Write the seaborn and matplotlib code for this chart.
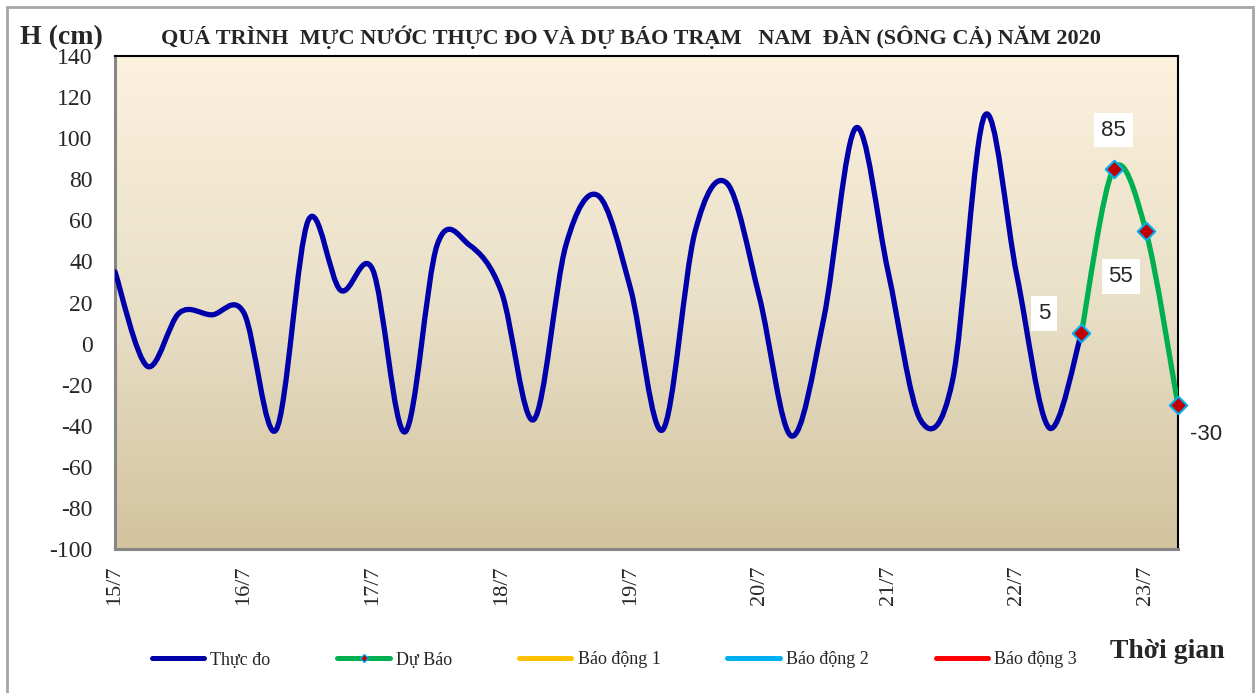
import numpy as np
import matplotlib
matplotlib.use("Agg")
import matplotlib.pyplot as plt
import seaborn as sns
import pandas as pd
from matplotlib.path import Path
from matplotlib.patches import PathPatch, Rectangle
from matplotlib.colors import LinearSegmentedColormap
from matplotlib.lines import Line2D

# muc nuoc 6h/lan tu 15/7 00h
thuc_do = [35, -11, 15, 14, 15, -42, 60, 26, 36, -43, 48, 48, 25, -37, 48, 72,
           27, -42, 54, 78, 23, -45, 12, 105, 35, -37, -18, 111, 33, -41, 5]
du_bao = [5, 85, 55, -30]
ngay = ["15/7", "16/7", "17/7", "18/7", "19/7", "20/7", "21/7", "22/7", "23/7"]
chu_thich = ["Thực đo", "Dự Báo", "Báo động 1", "Báo động 2", "Báo động 3"]
y_ticks = list(range(-100, 141, 20))

df_td = pd.DataFrame({"t": np.arange(len(thuc_do)), "h": thuc_do})
df_db = pd.DataFrame({"t": np.arange(len(du_bao)) + len(thuc_do) - 1, "h": du_bao})

SERIF = "Liberation Serif"
sns.set_style("white")
plt.rcParams["font.family"] = [SERIF, "DejaVu Serif"]


def smooth_path(x, y):
    # duong cong kieu Excel (Catmull-Rom -> Bezier)
    p = np.column_stack([x, y]).astype(float)
    n = len(p)
    verts = [tuple(p[0])]
    codes = [Path.MOVETO]
    for i in range(n - 1):
        p0 = p[i - 1] if i > 0 else p[i]
        p3 = p[i + 2] if i + 2 < n else p[i + 1]
        c1 = p[i] + (p[i + 1] - p0) / 6
        c2 = p[i + 1] - (p3 - p[i]) / 6
        verts += [tuple(c1), tuple(c2), tuple(p[i + 1])]
        codes += [Path.CURVE4] * 3
    return Path(verts, codes)


fig = plt.figure(figsize=(12.59, 6.93), dpi=100)
ax = fig.add_axes([115 / 1259, 1 - 549 / 693, (1178 - 115) / 1259, (549 - 56) / 693])

# nen gradient
cmap = LinearSegmentedColormap.from_list("bg", ["#d3c39f", "#e9e0c8", "#fcf1dd"])
ax.imshow(np.linspace(0, 1, 256).reshape(-1, 1), extent=[0, 1, 0, 1], origin="lower",
          transform=ax.transAxes, cmap=cmap, aspect="auto", zorder=0)

ax.add_patch(PathPatch(smooth_path(df_td.t, df_td.h), fc="none", ec="#0000aa",
                       lw=3.8, capstyle="round", zorder=3))
ax.add_patch(PathPatch(smooth_path(df_db.t, df_db.h), fc="none", ec="#00b050",
                       lw=3.8, capstyle="round", zorder=3))
sns.scatterplot(data=df_db, x="t", y="h", marker="D", s=80, color="#c00000",
                edgecolor="#00b0f0", linewidth=1.5, zorder=4, ax=ax, clip_on=False)

# nhan gia tri du bao
offsets = [(-27, 14), (0, 28), (-18, -33), (20, -21)]
for (t, h), off in zip(zip(df_db.t, df_db.h), offsets):
    ax.annotate(str(h), (t, h), xytext=off, textcoords="offset points",
                ha="center", va="center", fontsize=16, family="Liberation Sans",
                bbox=dict(fc="white", ec="none", pad=5), zorder=5)

ax.set_xlim(0, 33)
ax.set_ylim(-100, 140)
ax.set_yticks(y_ticks)
ax.set_yticklabels([str(v) for v in y_ticks], fontsize=17)
ax.set_xticks(np.arange(0, 33, 4))
ax.set_xticklabels(ngay, rotation=90, fontsize=16)
ax.set_xticks(np.arange(0, 34, 1), minor=True)
ax.tick_params(axis="y", direction="out", length=7, width=1.5, color="#868686", pad=9)
ax.tick_params(axis="x", which="both", direction="in", length=5, width=1.5,
               color="#868686", pad=12)
ax.set_xlabel("")
ax.set_ylabel("")
for s in ["left", "bottom"]:
    ax.spines[s].set_color("#868686")
    ax.spines[s].set_linewidth(2.2)
for s in ["top", "right"]:
    ax.spines[s].set_color("black")
    ax.spines[s].set_linewidth(1.5)

fig.text(631 / 1259, 1 - 37 / 693,
         "QUÁ TRÌNH  MỰC NƯỚC THỰC ĐO VÀ DỰ BÁO TRẠM   NAM  ĐÀN (SÔNG CẢ) NĂM 2020",
         ha="center", va="center", fontsize=16, fontweight="bold")
fig.text(20 / 1259, 1 - 38 / 693, "H (cm)", ha="left", va="center", fontsize=20,
         fontweight="bold")
fig.text(1110 / 1259, 1 - 651 / 693, "Thời gian", ha="left", va="center", fontsize=20,
         fontweight="bold")

mau = ["#0000aa", "#00b050", "#ffc000", "#00b0f0", "#ff0000"]
handles = []
for i, c in enumerate(mau):
    if i == 1:
        handles.append(Line2D([], [], color=c, lw=3.6, marker="D", markersize=4,
                              mfc="#c00000", mec="#00b0f0", solid_capstyle="round"))
    else:
        handles.append(Line2D([], [], color=c, lw=3.6, solid_capstyle="round"))
fig.legend(handles, chu_thich, loc="center", bbox_to_anchor=(0.488, 1 - 660 / 693),
           ncol=5, frameon=False, fontsize=13, handlelength=2.9, handletextpad=0.35,
           columnspacing=3.7)

fig.add_artist(Rectangle((7 / 1259, -0.05), (1253 - 7) / 1259, 1.05 - 7 / 693,
                         transform=fig.transFigure, fill=False, ec="#a6a6a6", lw=2))

fig.savefig("out.png", dpi=100)
